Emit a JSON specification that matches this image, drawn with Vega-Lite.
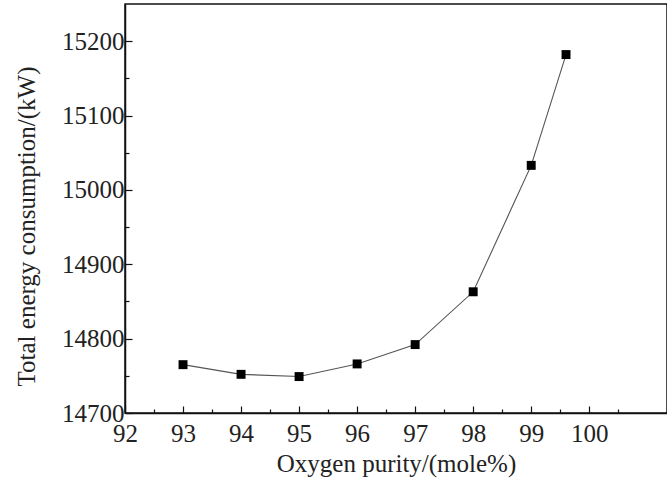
{
  "$schema": "https://vega.github.io/schema/vega-lite/v6.json",
  "autosize": "none",
  "width": 542,
  "height": 409,
  "padding": {"left": 125, "top": 4, "right": 0, "bottom": 79},
  "background": "white",
  "config": {
    "view": {"stroke": "#111", "strokeWidth": 1.5},
    "axis": {
      "grid": false,
      "domainColor": "#111",
      "domainWidth": 1.5,
      "tickColor": "#111",
      "tickWidth": 1.2,
      "labelFont": "Liberation Serif",
      "labelFontSize": 25,
      "labelColor": "#222",
      "titleFont": "Liberation Serif",
      "titleFontSize": 25,
      "titleFontWeight": "normal",
      "titleColor": "#222",
      "labelOverlap": false,
      "labelFlush": false
    }
  },
  "data": {
    "values": [
      {"purity": 93, "energy": 14765},
      {"purity": 94, "energy": 14752},
      {"purity": 95, "energy": 14749},
      {"purity": 96, "energy": 14766},
      {"purity": 97, "energy": 14792},
      {"purity": 98, "energy": 14863},
      {"purity": 99, "energy": 15033},
      {"purity": 99.6, "energy": 15182}
    ]
  },
  "resolve": {"axis": {"x": "independent", "y": "independent"}},
  "layer": [
    {
      "mark": {"type": "line", "color": "#555", "strokeWidth": 1.1},
      "encoding": {
        "x": {
          "field": "purity",
          "type": "quantitative",
          "scale": {"domain": [92, 101.34], "nice": false, "zero": false},
          "axis": {
            "orient": "bottom",
            "title": "Oxygen purity/(mole%)",
            "values": [92, 93, 94, 95, 96, 97, 98, 99, 100],
            "format": "d",
            "tickSize": -7,
            "labelPadding": 15,
            "titlePadding": 5
          }
        },
        "y": {
          "field": "energy",
          "type": "quantitative",
          "scale": {"domain": [14700, 15250], "nice": false, "zero": false},
          "axis": {
            "orient": "left",
            "title": "Total energy consumption/(kW)",
            "values": [14700, 14800, 14900, 15000, 15100, 15200],
            "format": "d",
            "tickSize": -7,
            "labelPadding": 8,
            "titlePadding": 22,
            "titleY": 222
          }
        }
      }
    },
    {
      "mark": {"type": "point", "shape": "square", "filled": true, "color": "#000", "opacity": 1, "size": 80},
      "encoding": {
        "x": {
          "field": "purity",
          "type": "quantitative",
          "axis": {
            "orient": "bottom",
            "title": null,
            "values": [92.5, 93.5, 94.5, 95.5, 96.5, 97.5, 98.5, 99.5, 100.5],
            "labels": false,
            "domain": false,
            "tickSize": -4
          }
        },
        "y": {
          "field": "energy",
          "type": "quantitative",
          "axis": {
            "orient": "left",
            "title": null,
            "values": [14750, 14850, 14950, 15050, 15150],
            "labels": false,
            "domain": false,
            "tickSize": -4
          }
        }
      }
    }
  ]
}
